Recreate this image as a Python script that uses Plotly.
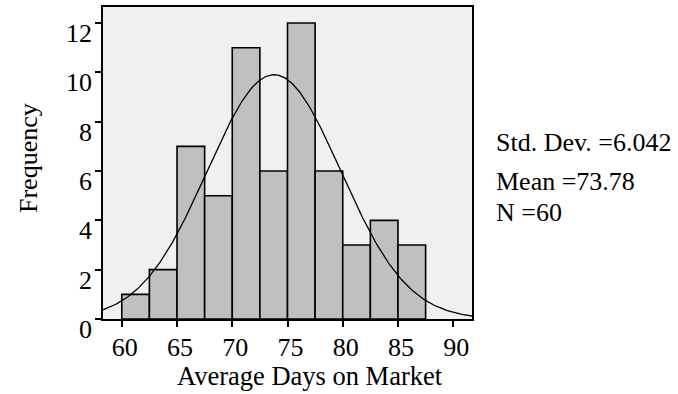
import numpy as np
import plotly.graph_objects as go

bin_left = [60.0, 62.5, 65.0, 67.5, 70.0, 72.5, 75.0, 77.5, 80.0, 82.5, 85.0]
counts = [1, 2, 7, 5, 11, 6, 12, 6, 3, 4, 3]
bin_width = 2.5
mean_val = 73.78
std_val = 6.042
n_val = 60
x_ticks = [60, 65, 70, 75, 80, 85, 90]
y_ticks = [0, 2, 4, 6, 8, 10, 12]
x_title = "Average Days on Market"
y_title = "Frequency"

centers = [b + bin_width / 2 for b in bin_left]
xr = [58.3, 91.7]
xs = np.linspace(xr[0], xr[1], 300)
ys = n_val * bin_width / (std_val * np.sqrt(2 * np.pi)) * np.exp(-0.5 * ((xs - mean_val) / std_val) ** 2)

font = "Liberation Serif"
fig = go.Figure()
fig.add_trace(go.Bar(x=centers, y=counts, width=bin_width,
                     marker=dict(color="#c0c0c0", line=dict(color="black", width=1.6))))
fig.add_trace(go.Scatter(x=xs, y=ys, mode="lines", line=dict(color="black", width=1.3)))

L, R, T, B = 103, 206, 7, 75
W, H = 678, 394
pw = W - L - R
ph = H - T - B
fig.update_layout(
    width=W, height=H,
    margin=dict(l=L, r=R, t=T, b=B),
    paper_bgcolor="white", plot_bgcolor="#f0f0f0",
    showlegend=False,
    font=dict(family=font, color="black", size=26),
)
fig.update_xaxes(range=xr, tickvals=x_ticks, ticks="outside", ticklen=6, tickwidth=1.5,
                 tickcolor="black", showgrid=False, zeroline=False,
                 showline=True, linecolor="black", linewidth=1.5, mirror=True,
                 tickfont=dict(size=26), ticklabelshift=3, ticklabelstandoff=-2,
                 automargin=False)
fig.update_yaxes(range=[0, 12.65], tickvals=y_ticks, ticks="outside", ticklen=6, tickwidth=1.5,
                 tickcolor="black", showgrid=False, zeroline=False,
                 showline=True, linecolor="black", linewidth=1.5, mirror=True,
                 tickfont=dict(size=26), ticklabelstandoff=-2, ticklabelshift=10,
                 automargin=False)


def px_x(p):
    return (p - L) / pw


def px_y(p):
    return 1 - (p - T) / ph


fig.add_annotation(text=x_title, xref="paper", yref="paper", x=px_x(310), y=px_y(376),
                   xanchor="center", yanchor="middle", showarrow=False, font=dict(size=26.5))
fig.add_annotation(text=y_title, xref="paper", yref="paper", x=px_x(28), y=px_y(158),
                   xanchor="center", yanchor="middle", textangle=-90, showarrow=False,
                   font=dict(size=26))

stats = [("Std. Dev. =%.3f" % std_val, 142), ("Mean =%.2f" % mean_val, 181), ("N =%d" % n_val, 212)]
for txt, yp in stats:
    fig.add_annotation(text=txt, xref="paper", yref="paper", x=px_x(494),
                       y=px_y(yp), xanchor="left", yanchor="middle",
                       showarrow=False, font=dict(size=26))

fig.write_html("out.html")
